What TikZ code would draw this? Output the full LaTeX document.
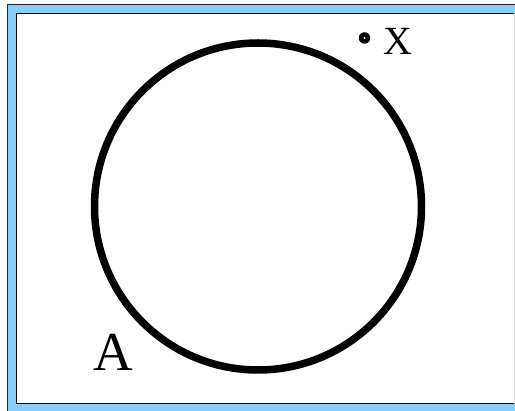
\documentclass[tikz,border=0pt]{standalone}
\usepackage{fontspec}
\setmainfont{Liberation Serif}
\tikzset{
  frameline/.style={line width=1.5pt, draw=black!85},
  setcircle/.style={line width=7.5pt, draw=black},
  lbl/.style={inner sep=0pt, anchor=base}
}
\begin{document}
\begin{tikzpicture}[x=1pt,y=-1pt]
\useasboundingbox (0,0) rectangle (515,411);
\fill[white] (0,0) rectangle (515,411);
\fill[fill={rgb,255:red,135;green,206;blue,250}] (8,5) rectangle (515,411);
\draw[frameline] (7.5,411) -- (7.5,4.5) -- (515,4.5);
\fill[white] (16,13) rectangle (514,403);
\draw[frameline, draw=black] (514,13.5) -- (16.5,13.5) -- (16.5,403.5) -- (514,403.5);
\draw[line width=1pt, draw=black!15] (514,13.5) -- (514,403);
\node[setcircle, circle, minimum size=327pt, inner sep=0pt] (A) at (258,206.5) {};
\node[circle, fill=black, minimum size=11.5pt, inner sep=0pt] (x) at (364.5,38) {};
\fill[white] (x.center) circle[radius=1.1pt];
\node[lbl, font=\fontsize{40}{40}\selectfont] (xl) at (397.5,55) {X};
\node[lbl, font=\fontsize{55}{55}\selectfont] (al) at (113,371) {A};
\end{tikzpicture}
\end{document}
